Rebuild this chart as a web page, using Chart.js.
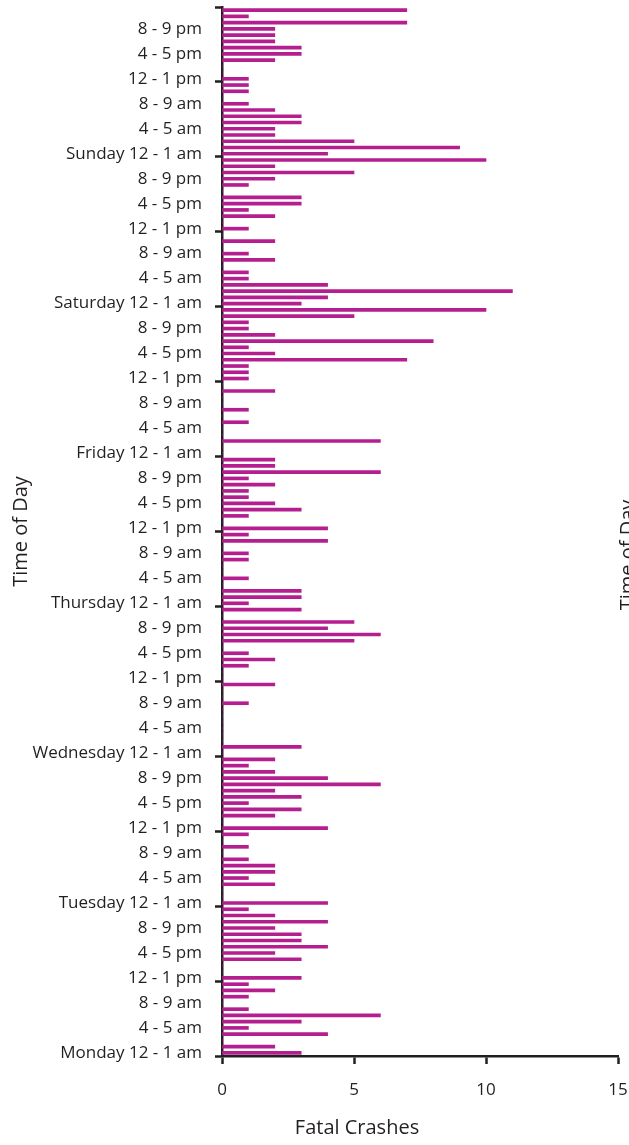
<!DOCTYPE html>
<html>
<head>
<meta charset="utf-8">
<script src="https://cdn.jsdelivr.net/npm/chart.js@4"></script>
<style>
  body { margin: 0; background: #fff; }
</style>
</head>
<body>
<canvas id="crashChart" width="629" height="1145"></canvas>
<script>
// hours of the day, each category is one hour of the week
const hourLabels = ['12 - 1 am', '1 - 2 am', '2 - 3 am', '3 - 4 am', '4 - 5 am', '5 - 6 am',
    '6 - 7 am', '7 - 8 am', '8 - 9 am', '9 - 10 am', '10 - 11 am', '11 am - 12 pm',
    '12 - 1 pm', '1 - 2 pm', '2 - 3 pm', '3 - 4 pm', '4 - 5 pm', '5 - 6 pm',
    '6 - 7 pm', '7 - 8 pm', '8 - 9 pm', '9 - 10 pm', '10 - 11 pm', '11 pm - 12 am'];
const days = ['Monday', 'Tuesday', 'Wednesday', 'Thursday', 'Friday', 'Saturday', 'Sunday'];

// fatal crashes per hour, 12 - 1 am first
const monday = [3, 2, 0, 4, 1, 3, 6, 1, 0, 1, 2, 1, 3, 0, 0, 3, 2, 4, 3, 3, 2, 4, 2, 1];
const tuesday = [4, 0, 0, 2, 1, 2, 2, 1, 0, 1, 0, 1, 4, 0, 2, 3, 1, 3, 2, 6, 4, 2, 1, 2];
const wednesday = [0, 3, 0, 0, 0, 0, 0, 0, 1, 0, 0, 2, 0, 0, 1, 2, 1, 0, 5, 6, 4, 5, 0, 3];
const thursday = [1, 3, 3, 0, 1, 0, 0, 1, 1, 0, 4, 1, 4, 0, 1, 3, 2, 1, 1, 2, 1, 6, 2, 2];
const friday = [0, 0, 6, 0, 0, 1, 0, 1, 0, 0, 2, 0, 1, 1, 1, 7, 2, 1, 8, 2, 1, 1, 5, 10];
const saturday = [3, 4, 11, 4, 1, 1, 0, 2, 1, 0, 2, 0, 1, 0, 2, 1, 3, 3, 0, 1, 2, 5, 2, 10];
const sunday = [4, 9, 5, 2, 2, 3, 3, 2, 1, 0, 1, 1, 1, 0, 0, 2, 3, 3, 2, 2, 2, 7, 1, 7];

const xTicks = [0, 5, 10, 15];

const textColor = '#231f20';
const barColor = '#b41e8e';
const fontName = '"Open Sans", sans-serif';

const weekValues = [monday, tuesday, wednesday, thursday, friday, saturday, sunday];
const labels = [];
const values = [];
days.forEach((day, d) => {
    hourLabels.forEach((hour, h) => {
        labels.push(h === 0 ? day + ' ' + hour : hour);
        values.push(weekValues[d][h]);
    });
});

// titles that sit off the axis centre, plus the cut-off title of the next chart
const extraText = {
    id: 'extraText',
    afterDraw(chart) {
        const ctx = chart.ctx;
        const x = chart.scales.x;
        ctx.save();
        ctx.fillStyle = textColor;
        ctx.font = '20px ' + fontName;
        ctx.textAlign = 'center';
        ctx.textBaseline = 'middle';
        ctx.fillText('Fatal Crashes', x.left + 135, 1128);
        ctx.translate(chart.width - 11, 555);
        ctx.rotate(-Math.PI / 2);
        ctx.textBaseline = 'top';
        ctx.fillText('Time of Day', 0, 0);
        ctx.restore();
    }
};

document.addEventListener('DOMContentLoaded', () => {
    const ctx = document.getElementById('crashChart').getContext('2d');
    new Chart(ctx, {
        type: 'bar',
        data: {
            labels: labels,
            datasets: [{
                label: 'Fatal Crashes',
                data: values,
                backgroundColor: barColor,
                borderWidth: 0,
                barThickness: 3
            }]
        },
        options: {
            indexAxis: 'y',
            responsive: false,
            animation: false,
            layout: { padding: { top: 7, right: 11 } },
            plugins: {
                legend: { display: false },
                tooltip: { enabled: false }
            },
            scales: {
                x: {
                    min: 0,
                    max: 15,
                    afterBuildTicks: (scale) => {
                        scale.ticks = xTicks.map(v => ({ value: v }));
                    },
                    afterFit: (scale) => {
                        scale.height = 89;
                        scale.paddingLeft = 0;
                        scale.paddingRight = 0;
                    },
                    grid: {
                        drawOnChartArea: false,
                        tickLength: 8,
                        tickWidth: 2.5,
                        tickColor: textColor
                    },
                    border: { color: textColor, width: 2.5 },
                    ticks: {
                        color: textColor,
                        font: { family: fontName, size: 17 },
                        padding: 16,
                        maxRotation: 0
                    }
                },
                y: {
                    reverse: true,
                    offset: true,
                    afterFit: (scale) => {
                        scale.width = 222;
                        scale.paddingTop = 0;
                        scale.paddingBottom = 0;
                    },
                    grid: {
                        offset: true,
                        drawOnChartArea: false,
                        tickLength: 7,
                        tickWidth: 2.5,
                        tickColor: (c) => (c.index === undefined || c.index % 12 === 0) ? textColor : 'rgba(0,0,0,0)'
                    },
                    border: { color: textColor, width: 2.5 },
                    ticks: {
                        autoSkip: false,
                        color: textColor,
                        font: { family: fontName, size: 17 },
                        padding: 13,
                        callback: function (value, index) {
                            return index % 4 === 0 ? this.getLabelForValue(value) : '';
                        }
                    },
                    title: {
                        display: true,
                        text: 'Time of Day',
                        color: textColor,
                        font: { family: fontName, size: 20 },
                        padding: { top: 9 }
                    }
                }
            }
        },
        plugins: [extraText]
    });
});
</script>
</body>
</html>
